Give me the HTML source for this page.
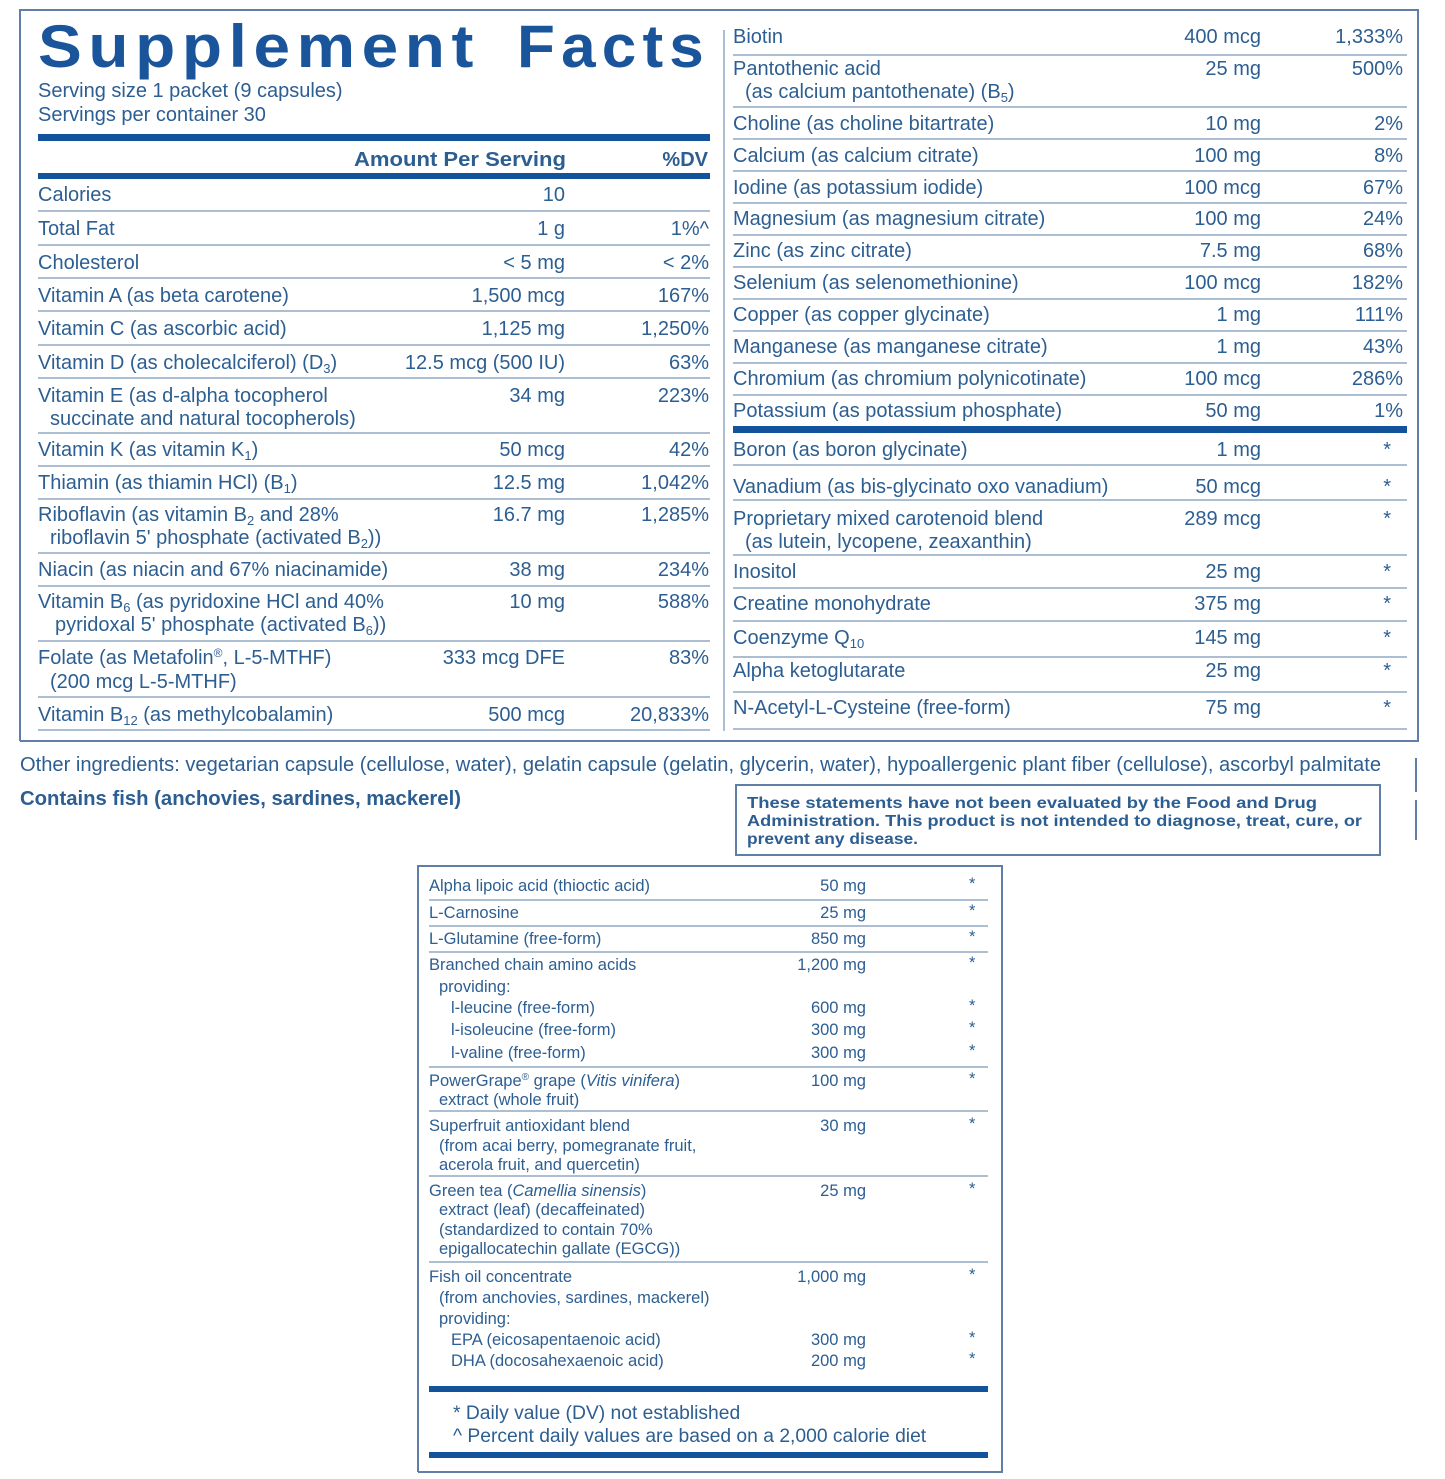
<!DOCTYPE html>
<html><head><meta charset="utf-8"><style>
html,body{margin:0;padding:0;background:#fff;}
svg{display:block;}
text{font-family:"Liberation Sans",sans-serif;fill:#2c5e92;}
.m{font-size:20px;}
.s{font-size:16.5px;}
.e{text-anchor:end;}
.b{font-weight:bold;}
.ln{stroke:#8fa8c4;stroke-width:1.5;}
.fr{stroke:#5f7fa6;stroke-width:2;fill:none;}
.tk{fill:#12539c;}
</style></head><body>
<svg width="1445" height="1479" viewBox="0 0 1445 1479" xmlns="http://www.w3.org/2000/svg">
<path class="fr" d="M20 741 V10 H1418 V741 H20"/>
<line x1="724" y1="30" x2="724" y2="731" class="ln"/>
<text x="38" y="67" style="font-size:60px;font-weight:bold;fill:#1a559c;letter-spacing:6px" textLength="442" lengthAdjust="spacingAndGlyphs">Supplement</text>
<text x="517" y="67" style="font-size:60px;font-weight:bold;fill:#1a559c;letter-spacing:6px" textLength="193" lengthAdjust="spacingAndGlyphs">Facts</text>
<text class="m" x="38" y="97">Serving size  1 packet (9 capsules)</text>
<text class="m" x="38" y="121">Servings per container  30</text>
<rect class="tk" x="38" y="134" width="672" height="7"/>
<text class="m b e" x="566" y="166" textLength="212" lengthAdjust="spacingAndGlyphs">Amount Per Serving</text>
<text class="m b e" x="708" y="166">%DV</text>
<rect class="tk" x="38" y="173" width="672" height="6"/>
<g class="m">
<text x="38" y="201">Calories</text><text class="e" x="565" y="201">10</text>
<text x="38" y="235">Total Fat</text><text class="e" x="565" y="235">1 g</text><text class="e" x="709" y="235">1%^</text>
<text x="38" y="269">Cholesterol</text><text class="e" x="565" y="269">&lt; 5 mg</text><text class="e" x="709" y="269">&lt; 2%</text>
<text x="38" y="302">Vitamin A (as beta carotene)</text><text class="e" x="565" y="302">1,500 mcg</text><text class="e" x="709" y="302">167%</text>
<text x="38" y="335">Vitamin C (as ascorbic acid)</text><text class="e" x="565" y="335">1,125 mg</text><text class="e" x="709" y="335">1,250%</text>
<text x="38" y="369">Vitamin D (as cholecalciferol) (D<tspan font-size="13" dy="4">3</tspan><tspan dy="-4">)</tspan></text><text class="e" x="565" y="369">12.5 mcg (500 IU)</text><text class="e" x="709" y="369">63%</text>
<text x="38" y="402">Vitamin E (as d-alpha tocopherol</text><text x="50" y="425">succinate and natural tocopherols)</text><text class="e" x="565" y="402">34 mg</text><text class="e" x="709" y="402">223%</text>
<text x="38" y="456">Vitamin K (as vitamin K<tspan font-size="13" dy="4">1</tspan><tspan dy="-4">)</tspan></text><text class="e" x="565" y="456">50 mcg</text><text class="e" x="709" y="456">42%</text>
<text x="38" y="489">Thiamin (as thiamin HCl) (B<tspan font-size="13" dy="4">1</tspan><tspan dy="-4">)</tspan></text><text class="e" x="565" y="489">12.5 mg</text><text class="e" x="709" y="489">1,042%</text>
<text x="38" y="521">Riboflavin (as vitamin B<tspan font-size="13" dy="4">2</tspan><tspan dy="-4"> and 28%</tspan></text><text x="50" y="544">riboflavin 5' phosphate (activated B<tspan font-size="13" dy="4">2</tspan><tspan dy="-4">))</tspan></text><text class="e" x="565" y="521">16.7 mg</text><text class="e" x="709" y="521">1,285%</text>
<text x="38" y="576">Niacin (as niacin and 67% niacinamide)</text><text class="e" x="565" y="576">38 mg</text><text class="e" x="709" y="576">234%</text>
<text x="38" y="608">Vitamin B<tspan font-size="13" dy="4">6</tspan><tspan dy="-4"> (as pyridoxine HCl and 40%</tspan></text><text x="55" y="631">pyridoxal 5' phosphate (activated B<tspan font-size="13" dy="4">6</tspan><tspan dy="-4">))</tspan></text><text class="e" x="565" y="608">10 mg</text><text class="e" x="709" y="608">588%</text>
<text x="38" y="664">Folate (as Metafolin<tspan font-size="12" dy="-7">®</tspan><tspan dy="7">, L-5-MTHF)</tspan></text><text x="50" y="688">(200 mcg L-5-MTHF)</text><text class="e" x="565" y="664">333 mcg DFE</text><text class="e" x="709" y="664">83%</text>
<text x="38" y="721">Vitamin B<tspan font-size="13" dy="4">12</tspan><tspan dy="-4"> (as methylcobalamin)</tspan></text><text class="e" x="565" y="721">500 mcg</text><text class="e" x="709" y="721">20,833%</text>
</g>
<g class="ln">
<line x1="38" x2="710" y1="211" y2="211"/><line x1="38" x2="710" y1="245" y2="245"/><line x1="38" x2="710" y1="278" y2="278"/>
<line x1="38" x2="710" y1="311" y2="311"/><line x1="38" x2="710" y1="345" y2="345"/><line x1="38" x2="710" y1="378" y2="378"/>
<line x1="38" x2="710" y1="433" y2="433"/><line x1="38" x2="710" y1="466" y2="466"/><line x1="38" x2="710" y1="499" y2="499"/>
<line x1="38" x2="710" y1="553" y2="553"/><line x1="38" x2="710" y1="586" y2="586"/><line x1="38" x2="710" y1="641" y2="641"/>
<line x1="38" x2="710" y1="697" y2="697"/><line x1="38" x2="710" y1="730" y2="730"/>
</g>
<g class="m">
<text x="733" y="43">Biotin</text><text class="e" x="1261" y="43">400 mcg</text><text class="e" x="1403" y="43">1,333%</text>
<text x="733" y="75">Pantothenic acid</text><text x="745" y="98">(as calcium pantothenate) (B<tspan font-size="13" dy="4">5</tspan><tspan dy="-4">)</tspan></text><text class="e" x="1261" y="75">25 mg</text><text class="e" x="1403" y="75">500%</text>
<text x="733" y="130">Choline (as choline bitartrate)</text><text class="e" x="1261" y="130">10 mg</text><text class="e" x="1403" y="130">2%</text>
<text x="733" y="162">Calcium (as calcium citrate)</text><text class="e" x="1261" y="162">100 mg</text><text class="e" x="1403" y="162">8%</text>
<text x="733" y="194">Iodine (as potassium iodide)</text><text class="e" x="1261" y="194">100 mcg</text><text class="e" x="1403" y="194">67%</text>
<text x="733" y="225">Magnesium (as magnesium citrate)</text><text class="e" x="1261" y="225">100 mg</text><text class="e" x="1403" y="225">24%</text>
<text x="733" y="257">Zinc (as zinc citrate)</text><text class="e" x="1261" y="257">7.5 mg</text><text class="e" x="1403" y="257">68%</text>
<text x="733" y="289">Selenium (as selenomethionine)</text><text class="e" x="1261" y="289">100 mcg</text><text class="e" x="1403" y="289">182%</text>
<text x="733" y="321">Copper (as copper glycinate)</text><text class="e" x="1261" y="321">1 mg</text><text class="e" x="1403" y="321">111%</text>
<text x="733" y="353">Manganese (as manganese citrate)</text><text class="e" x="1261" y="353">1 mg</text><text class="e" x="1403" y="353">43%</text>
<text x="733" y="385">Chromium (as chromium polynicotinate)</text><text class="e" x="1261" y="385">100 mcg</text><text class="e" x="1403" y="385">286%</text>
<text x="733" y="417">Potassium (as potassium phosphate)</text><text class="e" x="1261" y="417">50 mg</text><text class="e" x="1403" y="417">1%</text>
<text x="733" y="456">Boron (as boron glycinate)</text><text class="e" x="1261" y="456">1 mg</text><text class="e" x="1391" y="456">*</text>
<text x="733" y="493">Vanadium (as bis-glycinato oxo vanadium)</text><text class="e" x="1261" y="493">50 mcg</text><text class="e" x="1391" y="493">*</text>
<text x="733" y="525">Proprietary mixed carotenoid blend</text><text x="745" y="548">(as lutein, lycopene, zeaxanthin)</text><text class="e" x="1261" y="525">289 mcg</text><text class="e" x="1391" y="525">*</text>
<text x="733" y="578">Inositol</text><text class="e" x="1261" y="578">25 mg</text><text class="e" x="1391" y="578">*</text>
<text x="733" y="610">Creatine monohydrate</text><text class="e" x="1261" y="610">375 mg</text><text class="e" x="1391" y="610">*</text>
<text x="733" y="644">Coenzyme Q<tspan font-size="13" dy="4">10</tspan></text><text class="e" x="1261" y="644">145 mg</text><text class="e" x="1391" y="644">*</text>
<text x="733" y="677">Alpha ketoglutarate</text><text class="e" x="1261" y="677">25 mg</text><text class="e" x="1391" y="677">*</text>
<text x="733" y="714">N-Acetyl-L-Cysteine (free-form)</text><text class="e" x="1261" y="714">75 mg</text><text class="e" x="1391" y="714">*</text>
</g>
<g class="ln">
<line x1="733" x2="1407" y1="55" y2="55"/><line x1="733" x2="1407" y1="107" y2="107"/><line x1="733" x2="1407" y1="139" y2="139"/>
<line x1="733" x2="1407" y1="171" y2="171"/><line x1="733" x2="1407" y1="203" y2="203"/><line x1="733" x2="1407" y1="235" y2="235"/>
<line x1="733" x2="1407" y1="267" y2="267"/><line x1="733" x2="1407" y1="299" y2="299"/><line x1="733" x2="1407" y1="331" y2="331"/>
<line x1="733" x2="1407" y1="363" y2="363"/><line x1="733" x2="1407" y1="395" y2="395"/>
<line x1="733" x2="1407" y1="465" y2="465"/><line x1="733" x2="1407" y1="500" y2="500"/><line x1="733" x2="1407" y1="555" y2="555"/>
<line x1="733" x2="1407" y1="588" y2="588"/><line x1="733" x2="1407" y1="621" y2="621"/><line x1="733" x2="1407" y1="657" y2="657"/>
<line x1="733" x2="1407" y1="692" y2="692"/><line x1="733" x2="1407" y1="729" y2="729"/>
</g>
<rect class="tk" x="733" y="426" width="674" height="7"/>
<text class="m" x="20" y="771" textLength="1361" lengthAdjust="spacingAndGlyphs">Other ingredients: vegetarian capsule (cellulose, water), gelatin capsule (gelatin, glycerin, water), hypoallergenic plant fiber (cellulose), ascorbyl palmitate</text>
<text class="m b" x="20" y="805" textLength="441" lengthAdjust="spacingAndGlyphs">Contains fish (anchovies, sardines, mackerel)</text>
<line x1="1416" y1="758" x2="1416" y2="792" class="fr"/>
<line x1="1416" y1="800" x2="1416" y2="840" class="fr"/>
<rect x="736" y="785" width="644" height="70" class="fr"/>
<g style="font-size:16px;font-weight:bold">
<text x="747" y="808" textLength="570" lengthAdjust="spacingAndGlyphs">These statements have not been evaluated by the Food and Drug</text>
<text x="747" y="826" textLength="615" lengthAdjust="spacingAndGlyphs">Administration. This product is not intended to diagnose, treat, cure, or</text>
<text x="747" y="844" textLength="171" lengthAdjust="spacingAndGlyphs">prevent any disease.</text>
</g>
<path class="fr" d="M418 1472 V866 H1002 V1472 H418"/>
<g class="s">
<text x="429" y="891">Alpha lipoic acid (thioctic acid)</text><text class="e" x="866" y="891">50 mg</text><text x="969" y="889">*</text>
<text x="429" y="918">L-Carnosine</text><text class="e" x="866" y="918">25 mg</text><text x="969" y="916">*</text>
<text x="429" y="944">L-Glutamine (free-form)</text><text class="e" x="866" y="944">850 mg</text><text x="969" y="942">*</text>
<text x="429" y="970">Branched chain amino acids</text><text class="e" x="866" y="970">1,200 mg</text><text x="969" y="968">*</text>
<text x="439" y="992">providing:</text>
<text x="451" y="1013">l-leucine (free-form)</text><text class="e" x="866" y="1013">600 mg</text><text x="969" y="1011">*</text>
<text x="451" y="1035">l-isoleucine (free-form)</text><text class="e" x="866" y="1035">300 mg</text><text x="969" y="1033">*</text>
<text x="451" y="1058">l-valine (free-form)</text><text class="e" x="866" y="1058">300 mg</text><text x="969" y="1056">*</text>
<text x="429" y="1086">PowerGrape<tspan font-size="10" dy="-6">®</tspan><tspan dy="6"> grape (</tspan><tspan font-style="italic">Vitis vinifera</tspan>)</text><text class="e" x="866" y="1086">100 mg</text><text x="969" y="1084">*</text>
<text x="439" y="1105">extract (whole fruit)</text>
<text x="429" y="1131">Superfruit antioxidant blend</text><text class="e" x="866" y="1131">30 mg</text><text x="969" y="1129">*</text>
<text x="439" y="1151">(from acai berry, pomegranate fruit,</text>
<text x="439" y="1170">acerola fruit, and quercetin)</text>
<text x="429" y="1196">Green tea (<tspan font-style="italic">Camellia sinensis</tspan>)</text><text class="e" x="866" y="1196">25 mg</text><text x="969" y="1194">*</text>
<text x="439" y="1215">extract (leaf) (decaffeinated)</text>
<text x="439" y="1235">(standardized to contain 70%</text>
<text x="439" y="1254">epigallocatechin gallate (EGCG))</text>
<text x="429" y="1282">Fish oil concentrate</text><text class="e" x="866" y="1282">1,000 mg</text><text x="969" y="1280">*</text>
<text x="439" y="1303">(from anchovies, sardines, mackerel)</text>
<text x="439" y="1324">providing:</text>
<text x="451" y="1345">EPA (eicosapentaenoic acid)</text><text class="e" x="866" y="1345">300 mg</text><text x="969" y="1343">*</text>
<text x="451" y="1366">DHA (docosahexaenoic acid)</text><text class="e" x="866" y="1366">200 mg</text><text x="969" y="1364">*</text>
</g>
<g class="ln">
<line x1="429" x2="988" y1="900" y2="900"/><line x1="429" x2="988" y1="926" y2="926"/><line x1="429" x2="988" y1="952" y2="952"/>
<line x1="429" x2="988" y1="1067" y2="1067"/><line x1="429" x2="988" y1="1111" y2="1111"/><line x1="429" x2="988" y1="1176" y2="1176"/>
<line x1="429" x2="988" y1="1262" y2="1262"/>
</g>
<rect class="tk" x="429" y="1386" width="559" height="6"/>
<text style="font-size:19.3px" x="453" y="1419">* Daily value (DV) not established</text>
<text style="font-size:19.3px" x="453" y="1442">^ Percent daily values are based on a 2,000 calorie diet</text>
<rect class="tk" x="429" y="1452" width="559" height="6"/>
</svg>
</body></html>
